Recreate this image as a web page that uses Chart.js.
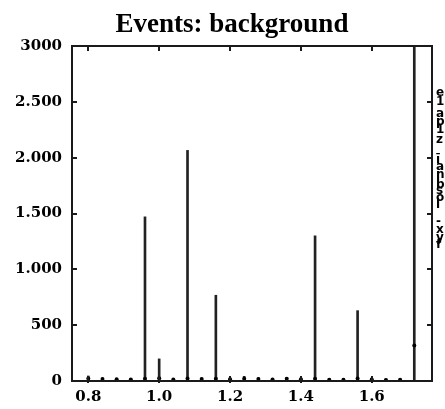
<!DOCTYPE html>
<html>
<head>
<meta charset="utf-8">
<script src="https://cdn.jsdelivr.net/npm/chart.js@4/dist/chart.umd.min.js"></script>
<style>
  html, body { margin: 0; padding: 0; background: #fff; }
  #wrap { width: 445px; height: 409px; }
</style>
</head>
<body>
<div id="wrap"><canvas id="eventsChart" width="445" height="409"></canvas></div>
<script>
// bin centres of the background histogram
var binCenters = [0.80, 0.84, 0.88, 0.92, 0.96, 1.00, 1.04, 1.08, 1.12, 1.16, 1.20, 1.24,
                  1.28, 1.32, 1.36, 1.40, 1.44, 1.48, 1.52, 1.56, 1.60, 1.64, 1.68, 1.72];
// event count per bin (marker) and top of its error bar
var eventCounts = [22, 18, 15, 14, 20, 25, 14, 22, 18, 20, 16, 20,
                   18, 14, 20, 16, 20, 12, 12, 22, 14, 10, 12, 317];
var errorTops = [45, 26, 24, 22, 1470, 198, 22, 2065, 26, 768, 26, 42,
                 28, 22, 30, 24, 1300, 20, 20, 630, 26, 18, 20, 3400];

var xTickValues = [0.8, 1.0, 1.2, 1.4, 1.6];
var xTickLabels = ['0.8', '1.0', '1.2', '1.4', '1.6'];
var yTickValues = [0, 500, 1000, 1500, 2000, 2500, 3000];
var yTickLabels = ['0', '500', '1.000', '1.500', '2.000', '2.500', '3000'];

var chartTitle = 'Events: background';
// clipped lines of the statistics box at the right edge
var statsLines = ['e', '1', 'a', 'p', '1', 'z', 'ī', 'a', 'n', 'b', 's', 'o', 'l', '-', 'x', 'y', 'f'];

var tickFont = { family: 'DejaVu Serif', size: 15, weight: 'bold' };

// frame with inward tick marks, title and the cut-off stats text
var framePlugin = {
    id: 'frame',
    afterDatasetsDraw: function(chart) {
        var ctx = chart.ctx;
        var a = chart.chartArea;
        var xs = chart.scales.x, ys = chart.scales.y;
        ctx.save();
        ctx.strokeStyle = '#1a1a1a';
        ctx.lineWidth = 2;
        ctx.strokeRect(a.left, a.top, a.right - a.left, a.bottom - a.top);
        ctx.beginPath();
        xTickValues.forEach(function(v) {
            var px = Math.round(xs.getPixelForValue(v));
            ctx.moveTo(px, a.bottom + 2);
            ctx.lineTo(px, a.bottom - 5);
            ctx.moveTo(px, a.top);
            ctx.lineTo(px, a.top + 5);
        });
        yTickValues.forEach(function(v) {
            var py = Math.round(ys.getPixelForValue(v));
            ctx.moveTo(a.left, py);
            ctx.lineTo(a.left + 5, py);
            ctx.moveTo(a.right, py);
            ctx.lineTo(a.right - 5, py);
        });
        ctx.stroke();
        ctx.restore();
    },
    afterDraw: function(chart) {
        var ctx = chart.ctx;
        ctx.save();
        ctx.fillStyle = '#000';
        ctx.textAlign = 'center';
        ctx.textBaseline = 'alphabetic';
        ctx.font = 'bold 27px "Liberation Serif"';
        ctx.fillText(chartTitle, 232, 32);

        ctx.textAlign = 'left';
        ctx.textBaseline = 'middle';
        ctx.font = 'bold 12px "DejaVu Sans"';
        var rows = [93, 102, 114, 122, 130, 140, 160, 167, 175, 185, 191, 198, 205, 222, 230, 238, 245];
        statsLines.forEach(function(s, i) {
            ctx.fillText(s, 436, rows[i]);
        });
        ctx.restore();
    }
};

new Chart(document.getElementById('eventsChart'), {
    type: 'bar',
    data: {
        datasets: [
            {
                type: 'bar',
                label: 'errors',
                data: binCenters.map(function(x, i) { return { x: x, y: [0, errorTops[i]] }; }),
                backgroundColor: '#222',
                borderWidth: 0,
                barThickness: 2,
                order: 2
            },
            {
                type: 'scatter',
                label: 'events',
                data: binCenters.map(function(x, i) { return { x: x, y: eventCounts[i] }; }),
                pointStyle: 'circle',
                pointRadius: 2,
                backgroundColor: '#000',
                borderColor: '#000',
                borderWidth: 0,
                order: 1
            }
        ]
    },
    options: {
        responsive: false,
        animation: false,
        layout: { padding: { top: 46, right: 13, left: 0, bottom: 0 } },
        plugins: {
            legend: { display: false },
            tooltip: { enabled: false },
            title: { display: false }
        },
        scales: {
            x: {
                type: 'linear',
                min: 0.754,
                max: 1.77,
                offset: false,
                grid: { display: false, drawTicks: false },
                border: { display: false },
                afterBuildTicks: function(axis) {
                    axis.ticks = xTickValues.map(function(v) { return { value: v }; });
                },
                afterFit: function(axis) { axis.height = 28; },
                ticks: {
                    color: '#000',
                    font: tickFont,
                    padding: 7,
                    maxRotation: 0,
                    autoSkip: false,
                    callback: function(value, index) { return xTickLabels[index]; }
                }
            },
            y: {
                min: 0,
                max: 3000,
                grid: { display: false, drawTicks: false },
                border: { display: false },
                afterBuildTicks: function(axis) {
                    axis.ticks = yTickValues.map(function(v) { return { value: v }; });
                },
                afterFit: function(axis) { axis.width = 72; },
                ticks: {
                    color: '#000',
                    font: tickFont,
                    padding: 10,
                    autoSkip: false,
                    callback: function(value, index) { return yTickLabels[index]; }
                }
            }
        }
    },
    plugins: [framePlugin]
});
</script>
</body>
</html>
